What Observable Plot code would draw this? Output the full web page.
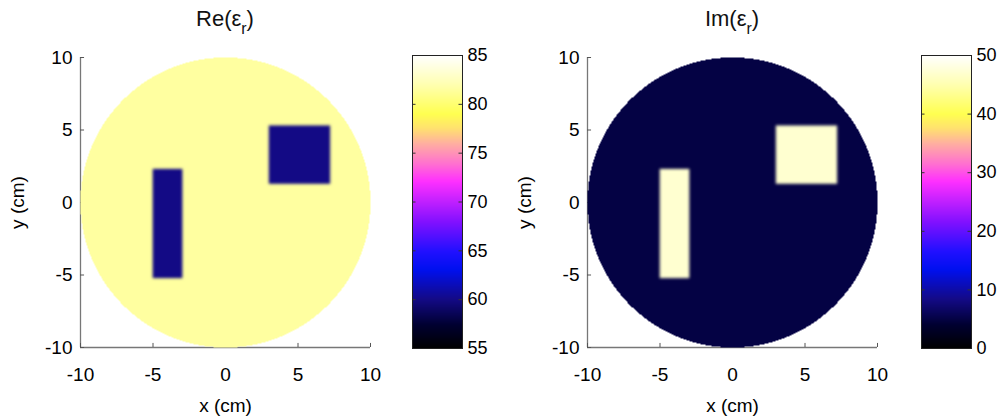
<!DOCTYPE html>
<html><head><meta charset="utf-8">
<script src="https://cdn.jsdelivr.net/npm/d3@7"></script>
<script src="https://cdn.jsdelivr.net/npm/@observablehq/plot@0.6"></script>
<style>
body{margin:0;background:#fff;font-family:"Liberation Sans",Arial,sans-serif;}
#root{position:relative;width:1002px;height:417px;overflow:hidden;background:#fff;}
.part{position:absolute;top:0;}
.part svg{max-width:none !important;}
.title{position:absolute;top:8px;font-size:22px;line-height:1;color:#111;transform:translateX(-50%);white-space:nowrap;}
.title sub{font-size:72%;vertical-align:-0.5em;}
</style></head><body><div id="root"></div>
<script>
// ---------- data ----------
const panelNames = ["Re", "Im"];
const axisTicks = [-10, -5, 0, 5, 10];           // cm
const diskRadius = 10;                             // cm
const backgroundValue = [81.5, 5];                 // Re, Im of the disk
const inclusionX1 = [-5.0, 3.0];
const inclusionX2 = [-3.0, 7.2];
const inclusionY1 = [-5.2, 1.3];
const inclusionY2 = [2.3, 5.3];
const inclusionRe = [60, 60];
const inclusionIm = [47, 47];
const inclusionValue = [inclusionRe, inclusionIm];
const reTicks = [55, 60, 65, 70, 75, 80, 85];
const imTicks = [0, 10, 20, 30, 40, 50];
const colorbarTicks = [reTicks, imTicks];
// colormap (gnuplot2-like) stops, as a fraction of the range
const cmapStops  = [0, 0.08, 0.17, 0.27, 0.33, 0.43, 0.5, 0.57, 0.63, 0.7, 0.75, 0.8, 0.9, 1];
const cmapColors = ["#000000","#000030","#140a88","#0010f0","#2010ff","#8010ff","#c020ff",
                    "#ff30ff","#ff70d0","#ffb0a0","#ffe070","#ffff50","#ffffb0","#ffffff"];

// ---------- drawing ----------
const root = document.getElementById("root");
const font = '"Liberation Sans", Arial, sans-serif';
const fmt = d => String(d);

function colorScale(ticks) {
  const lo = ticks[0], hi = ticks[ticks.length - 1];
  return {type: "linear", domain: cmapStops.map(t => lo + t * (hi - lo)), range: cmapColors, clamp: true};
}

function field(p) {
  return (x, y) => {
    for (let i = 0; i < inclusionX1.length; i++) {
      if (x >= inclusionX1[i] && x <= inclusionX2[i] && y >= inclusionY1[i] && y <= inclusionY2[i])
        return inclusionValue[p][i];
    }
    return backgroundValue[p];
  };
}

function place(el, left) {
  const d = document.createElement("div");
  d.className = "part";
  d.style.left = left + "px";
  d.appendChild(el);
  root.appendChild(d);
}

const mainLeft = [0, 507];
const barLeft = [400, 909];
const titleX = [225, 732];

for (let p = 0; p < 2; p++) {
  const f = field(p);
  const disk = (x, y) => (x * x + y * y <= diskRadius * diskRadius ? f(x, y) : NaN);
  const m = 0.5;
  const overlays = inclusionX1.map((_, i) => Plot.raster({
    x1: inclusionX1[i] - m, x2: inclusionX2[i] + m,
    y1: inclusionY1[i] - m, y2: inclusionY2[i] + m,
    fill: f, blur: 1
  }));
  const chart = Plot.plot({
    width: 400, height: 417,
    marginLeft: 80, marginRight: 30, marginTop: 57, marginBottom: 70,
    style: {fontFamily: font, fontSize: "19px", color: "#000", background: "transparent"},
    x: {domain: [-10, 10]},
    y: {domain: [-10, 10]},
    color: colorScale(colorbarTicks[p]),
    marks: [
      Plot.ruleX([-10], {stroke: "#777", strokeWidth: 1.3}),
      Plot.ruleY([-10], {stroke: "#777", strokeWidth: 1.3}),
      Plot.ruleX(axisTicks, {y1: -10, y2: -9.72, stroke: "#555"}),
      Plot.ruleY(axisTicks, {x1: -10, x2: -9.72, stroke: "#555"}),
      Plot.raster({x1: -10, x2: 10, y1: -10, y2: 10, fill: disk}),
      ...overlays,
      Plot.axisX(axisTicks, {tickSize: 0, tickPadding: 20, tickFormat: fmt,
        label: "x (cm)", labelAnchor: "center", labelArrow: "none", labelOffset: 64}),
      Plot.axisY(axisTicks, {tickSize: 0, tickPadding: 8, tickFormat: fmt,
        label: "y (cm)", labelAnchor: "center", labelArrow: "none", labelOffset: 70})
    ]
  });
  place(chart, mainLeft[p]);

  const ticks = colorbarTicks[p];
  const lo = ticks[0], hi = ticks[ticks.length - 1];
  const bar = Plot.plot({
    width: 93, height: 417,
    marginLeft: 12, marginRight: 31, marginTop: 55, marginBottom: 69,
    style: {fontFamily: font, fontSize: "18px", color: "#000", background: "transparent"},
    x: {domain: [0, 1], axis: null},
    y: {domain: [lo, hi]},
    color: colorScale(ticks),
    marks: [
      Plot.raster({x1: 0, x2: 1, y1: lo, y2: hi, fill: (x, y) => y}),
      Plot.ruleY(ticks, {x1: 0, x2: 0.07, stroke: "#333"}),
      Plot.ruleY(ticks, {x1: 0.93, x2: 1, stroke: "#333"}),
      Plot.frame({stroke: "#222"}),
      Plot.axisY(ticks, {anchor: "right", tickSize: 0, tickPadding: 5, tickFormat: fmt, label: null})
    ]
  });
  place(bar, barLeft[p]);

  const t = document.createElement("div");
  t.className = "title";
  t.style.left = titleX[p] + "px";
  t.innerHTML = panelNames[p] + "(ε<sub>r</sub>)";
  root.appendChild(t);
}
</script>
</body></html>
